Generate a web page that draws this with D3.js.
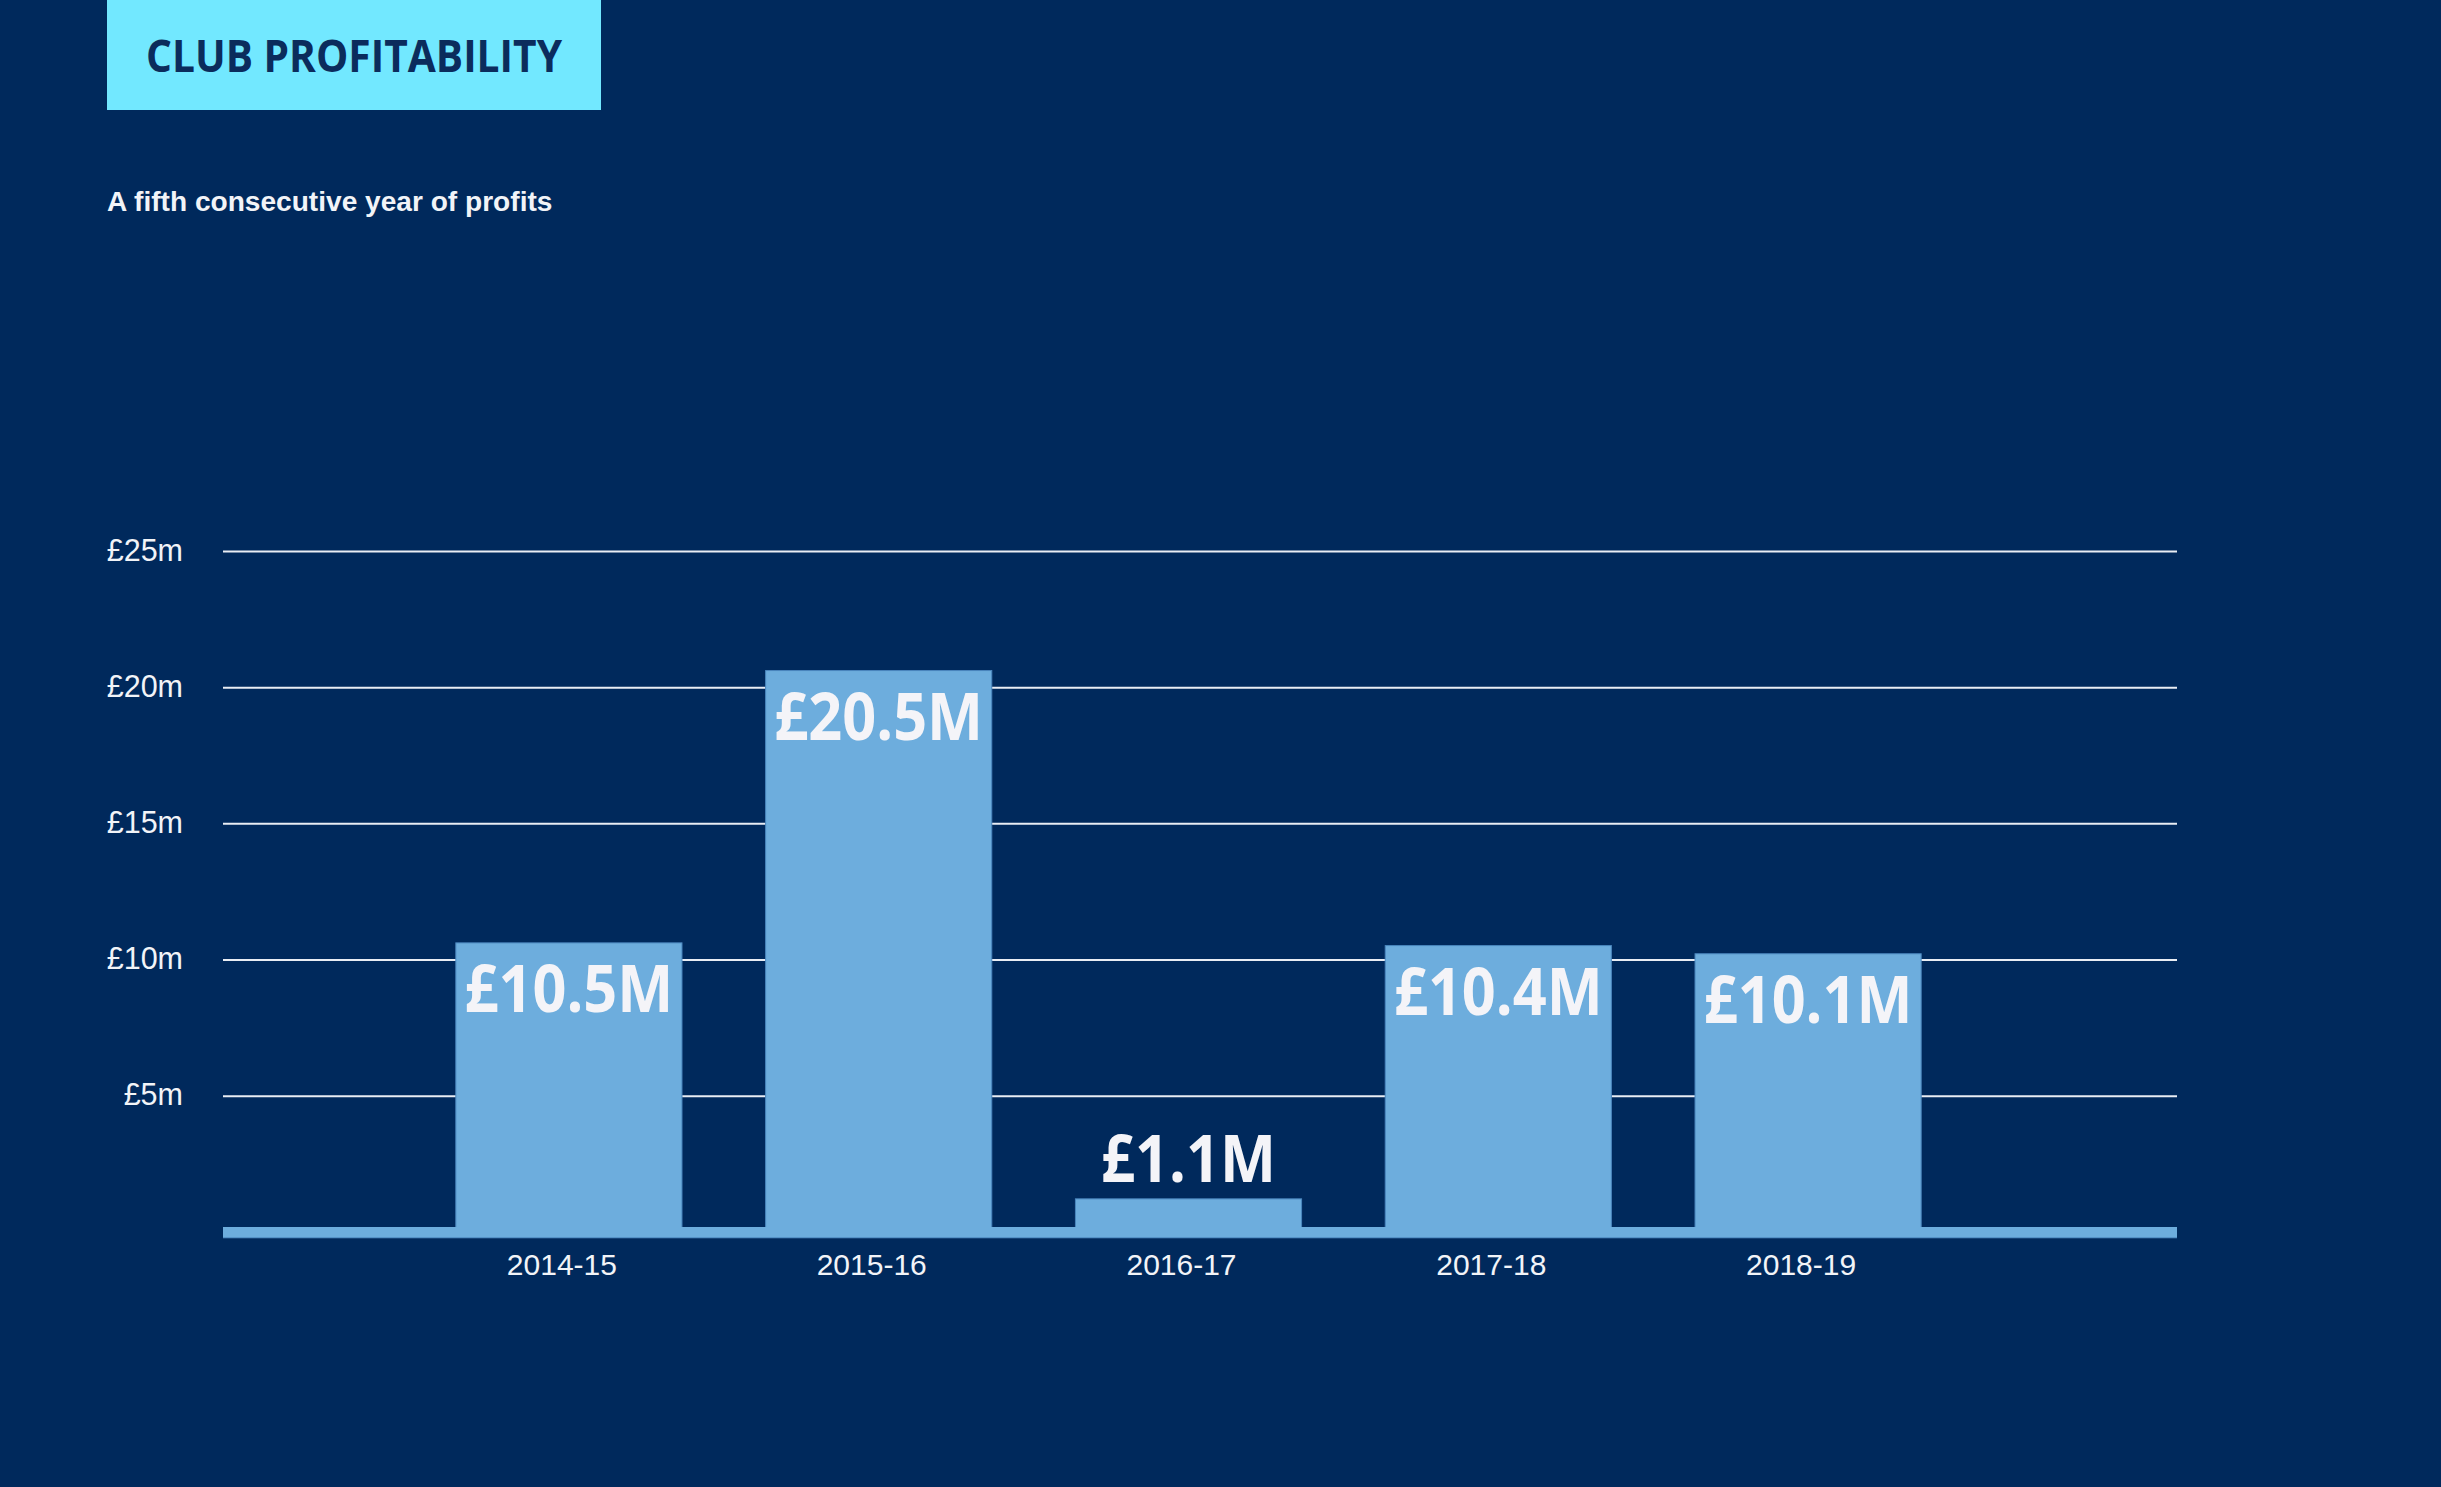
<!DOCTYPE html>
<html>
<head>
<meta charset="utf-8">
<script src="https://cdn.jsdelivr.net/npm/d3@7"></script>
<style>
  html, body { margin: 0; padding: 0; background: #00295C; }
  svg { display: block; }
</style>
</head>
<body>
<svg id="chart" width="2441" height="1487"></svg>
<script>
// ---- data ----
const categories = ["2014-15", "2015-16", "2016-17", "2017-18", "2018-19"];
const profits = [10.5, 20.5, 1.1, 10.4, 10.1];
const valueLabels = ["£10.5M", "£20.5M", "£1.1M", "£10.4M", "£10.1M"];
const yTicks = [5, 10, 15, 20, 25];
const yTickLabels = ["£5m", "£10m", "£15m", "£20m", "£25m"];
const titleText = "CLUB PROFITABILITY";
const subtitleText = "A fifth consecutive year of profits";

// ---- styles ----
const BG = "#00295C";
const BAR = "#6DADDD";
const TITLE_BG = "#72E8FF";
const NAVY = "#0B2C5C";
const LABEL = "#F4F4F8";

const svg = d3.select("#chart");
svg.append("rect").attr("width", 2441).attr("height", 1487).attr("fill", BG);

// title box
svg.append("rect").attr("x", 107).attr("y", 0).attr("width", 494).attr("height", 110).attr("fill", TITLE_BG);
const title = svg.append("g").attr("transform", "translate(354,72) scale(0.925,1)");
title.append("text")
  .attr("text-anchor", "middle")
  .attr("font-family", "'Open Sans', sans-serif")
  .attr("font-weight", 700)
  .attr("font-size", 44)
  .attr("fill", NAVY)
  .text(titleText);

svg.append("text")
  .attr("x", 107).attr("y", 211)
  .attr("font-family", "'Liberation Sans', Arial, sans-serif")
  .attr("font-weight", 700)
  .attr("font-size", 28.1)
  .attr("fill", "#F2F4F8")
  .text(subtitleText);

// scales
const y = d3.scaleLinear().domain([0, 25]).range([1231.8, 551]);
const x = d3.scaleBand().domain(categories).range([414, 1963]).paddingInner(0.27).paddingOuter(0.135);
const gridX0 = 223, gridX1 = 2177;

// gridlines
const yAxis = d3.axisLeft(y).tickValues(yTicks).tickSize(-(gridX1 - gridX0))
  .tickFormat((d, i) => yTickLabels[i]).tickPadding(40);
const gy = svg.append("g").attr("transform", `translate(${gridX0},0)`).call(yAxis);
gy.select(".domain").remove();
gy.selectAll(".tick line").attr("stroke", "#E9EDF4").attr("stroke-width", 2);
gy.selectAll(".tick text")
  .attr("fill", "#F2F4F8")
  .attr("font-family", "'Liberation Sans', Arial, sans-serif")
  .attr("font-size", 30.5)
  .attr("dy", "0.3em");

// bars
svg.append("g").selectAll("rect")
  .data(profits)
  .join("rect")
  .attr("x", (d, i) => x(categories[i]))
  .attr("y", d => y(d) - 3)
  .attr("width", x.bandwidth())
  .attr("height", d => y(0) - y(d) + 3)
  .attr("fill", BAR)
  .attr("stroke", "#4A86BE")
  .attr("stroke-width", 1);

// baseline band
svg.append("rect")
  .attr("x", gridX0).attr("y", y(0) - 4.8)
  .attr("width", gridX1 - gridX0).attr("height", 11)
  .attr("fill", BAR);
svg.append("line")
  .attr("x1", gridX0).attr("x2", gridX1)
  .attr("y1", y(0) + 6).attr("y2", y(0) + 6)
  .attr("stroke", "#4A86BE").attr("stroke-width", 1);

// x axis labels
const xAxis = d3.axisBottom(x).tickSize(0).tickPadding(0);
const gx = svg.append("g").attr("transform", `translate(-7,${y(0) + 43})`).call(xAxis);
gx.select(".domain").remove();
gx.selectAll(".tick text")
  .attr("fill", "#F2F4F8")
  .attr("font-family", "'Liberation Sans', Arial, sans-serif")
  .attr("font-size", 30)
  .attr("dy", "0");

// value labels
const lbl = svg.append("g").selectAll("g")
  .data(profits)
  .join("g")
  .attr("transform", (d, i) => {
    const cx = x(categories[i]) + x.bandwidth() / 2;
    const by = d >= 3 ? y(d) - 3 + 69 : y(d) - 3 - 17;
    return `translate(${cx},${by}) scale(0.9,1)`;
  });
lbl.append("text")
  .attr("text-anchor", "middle")
  .attr("font-family", "'Open Sans', sans-serif")
  .attr("font-weight", 700)
  .attr("font-size", 66)
  .attr("fill", LABEL)
  .text((d, i) => valueLabels[i]);
</script>
</body>
</html>
